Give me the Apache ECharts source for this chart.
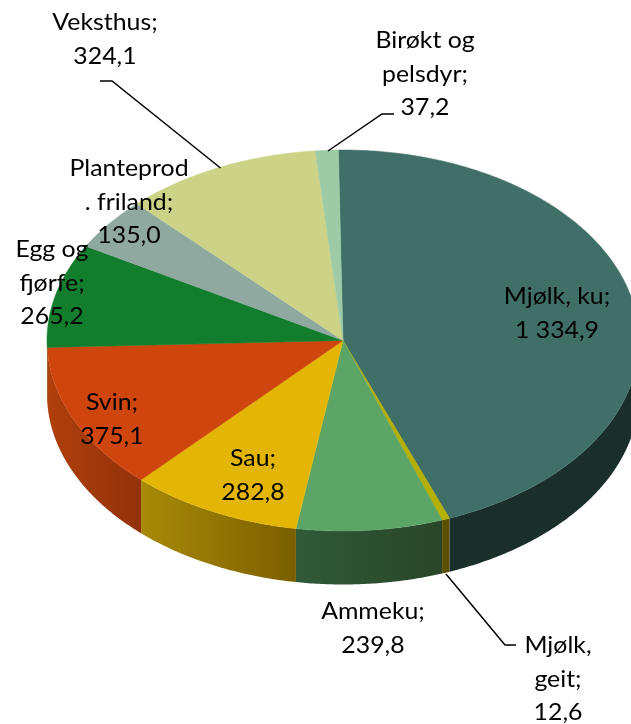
<!DOCTYPE html>
<html>
<head>
<meta charset="utf-8">
<style>html,body{margin:0;padding:0;background:#fff}#c{width:631px;height:724px}</style>
<script src="https://cdn.jsdelivr.net/npm/echarts@6/dist/echarts.min.js"></script>
</head>
<body>
<div id="c"></div>
<script>
// Data, clockwise from the top of the pie
const categories = ['Mjølk, ku', 'Mjølk, geit', 'Ammeku', 'Sau', 'Svin', 'Egg og fjørfe', 'Planteprod. friland', 'Veksthus', 'Birøkt og pelsdyr'];
const values = [1334.9, 12.6, 239.8, 282.8, 375.1, 265.2, 135.0, 324.1, 37.2];
const valueLabels = ['1 334,9', '12,6', '239,8', '282,8', '375,1', '265,2', '135,0', '324,1', '37,2'];
const nameLines = [['Mjølk, ku;'], ['Mjølk,', 'geit;'], ['Ammeku;'], ['Sau;'], ['Svin;'], ['Egg og', 'fjørfe;'], ['Planteprod', '. friland;'], ['Veksthus;'], ['Birøkt og', 'pelsdyr;']];

// Colours
const topColors = ['#3F6F66', '#B5B000', '#5DA566', '#E3B606', '#CE450D', '#127E2D', '#8FA8A0', '#CCD286', '#9CCBA6'];
const wallLeft = ['#1A2E2B', '#5A5000', '#2F5A38', '#A88A08', '#B0400C', '#0C5A20', '#667872', '#8F9360', '#6E9176'];
const wallRight = ['#1A2E2B', '#5A5000', '#2A4528', '#7A5F00', '#92310A', '#0C5A20', '#667872', '#8F9360', '#6E9176'];

// Layout
const pie = { cx: 343, cy: 340.5, rx: 296, ry: 190.5, depth: 53.5, startDeg: -0.9 };
const labelAnchors = [[557, 297], [558, 646], [373, 612], [253, 459], [112, 403], [52, 250], [129, 169], [105, 23], [425, 41]];
const lineStep = 33.4;
const leaderLines = [
  { index: 7, pts: [[220.5, 168], [112, 81], [100, 81]] },
  { index: 8, pts: [[328, 151], [382, 114], [394, 114]] },
  { index: 1, pts: [[446, 574], [505, 645], [516, 645]] }
];
const labelFont = '23px Lato, Carlito, sans-serif';
const labelStretch = 1.08;

const total = values.reduce((a, b) => a + b, 0);
const cumulative = [];
values.reduce((acc, v, i) => { cumulative[i] = acc; return acc + v; }, 0);

function deg(v) { return pie.startDeg + v / total * 360; }
function pointAt(d, dy) {
  const r = d * Math.PI / 180;
  return [pie.cx + pie.rx * Math.sin(r), pie.cy - pie.ry * Math.cos(r) + (dy || 0)];
}
function arc(a, b, dy) {
  const n = Math.max(2, Math.ceil(Math.abs(b - a) * 2));
  const out = [];
  for (let i = 0; i <= n; i++) out.push(pointAt(a + (b - a) * i / n, dy));
  return out;
}

function renderSlice(params, api) {
  const i = params.dataIndex;
  const v = api.value(0);
  const a = deg(cumulative[i]);
  const b = a + v / total * 360;
  const children = [];
  const wa = Math.max(a, 90), wb = Math.min(b, 270);
  if (wb > wa) {
    const pts = arc(wa, wb, 0).concat(arc(wb, wa, pie.depth));
    children.push({
      type: 'polygon',
      shape: { points: pts },
      style: {
        fill: new echarts.graphic.LinearGradient(0, 0, 1, 0, [
          { offset: 0, color: wallLeft[i] },
          { offset: 1, color: wallRight[i] }
        ])
      }
    });
  }
  children.push({
    type: 'polygon',
    shape: { points: [[pie.cx, pie.cy]].concat(arc(a, b, 0)) },
    style: { fill: topColors[i], stroke: topColors[i], lineWidth: 0.5 }
  });
  return { type: 'group', children };
}

function renderLabel(params) {
  const i = params.dataIndex;
  const lines = nameLines[i].concat([valueLabels[i]]);
  const [x, y] = labelAnchors[i];
  return {
    type: 'group',
    children: lines.map((t, k) => ({
      type: 'text',
      x,
      y: y + k * lineStep,
      scaleX: labelStretch,
      style: { text: t, x: 0, y: 0, fill: '#000', font: labelFont, align: 'center', verticalAlign: 'middle' }
    }))
  };
}

function renderLeader(params) {
  return {
    type: 'polyline',
    shape: { points: leaderLines[params.dataIndex].pts },
    style: { stroke: '#000', lineWidth: 1.5, fill: null }
  };
}

const chart = echarts.init(document.getElementById('c'), null, { renderer: 'canvas', width: 631, height: 724 });
chart.setOption({
  animation: false,
  series: [
    { type: 'custom', coordinateSystem: 'none', silent: true, z: 1, renderItem: renderSlice,
      data: categories.map((c, i) => ({ name: c, value: [values[i]] })) },
    { type: 'custom', coordinateSystem: 'none', silent: true, z: 2, renderItem: renderLeader,
      data: leaderLines.map(l => categories[l.index]) },
    { type: 'custom', coordinateSystem: 'none', silent: true, z: 3, renderItem: renderLabel,
      data: categories.map((c, i) => ({ name: c, value: [values[i]] })) }
  ]
});
</script>
</body>
</html>
